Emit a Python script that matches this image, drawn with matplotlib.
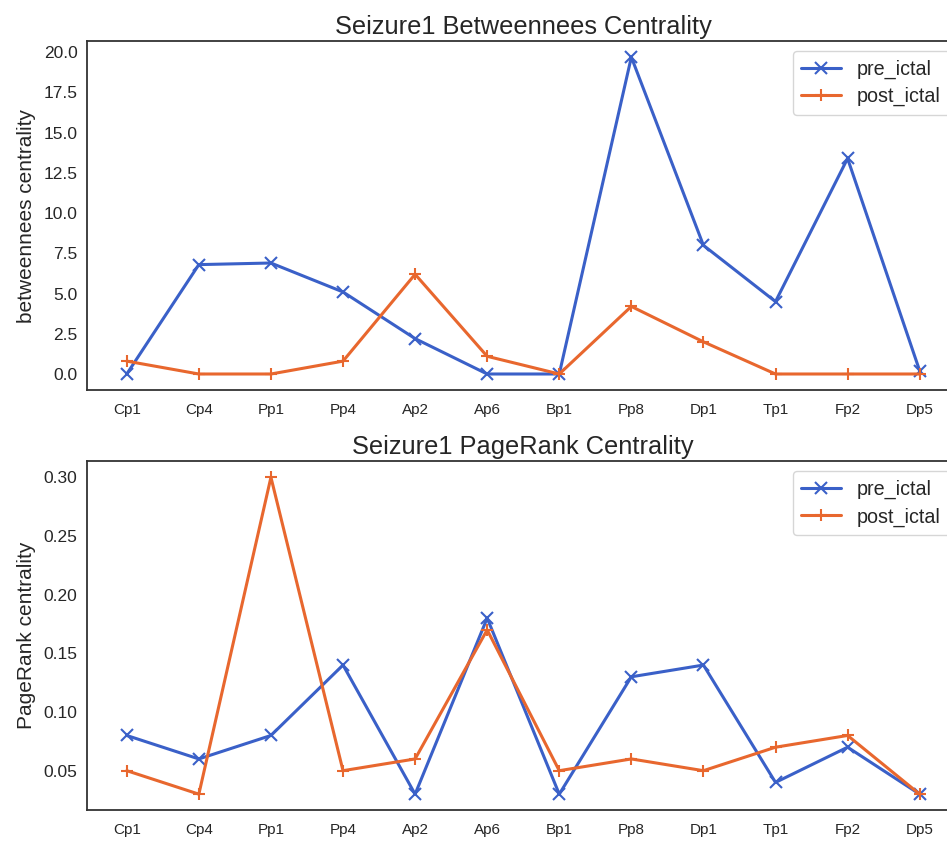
import matplotlib.pyplot as plt
import seaborn as sns

sns.set_style('white')
plt.rcParams['font.family'] = ['Liberation Sans', 'DejaVu Sans']

# Electrodes on the x axis
electrodes = ['Cp1', 'Cp4', 'Pp1', 'Pp4', 'Ap2', 'Ap6', 'Bp1', 'Pp8', 'Dp1', 'Tp1', 'Fp2', 'Dp5']

# Betweenness centrality
btw_pre = [0.0, 6.8, 6.9, 5.1, 2.2, 0.0, 0.0, 19.7, 8.0, 4.5, 13.4, 0.2]
btw_post = [0.8, 0.0, 0.0, 0.8, 6.2, 1.1, 0.0, 4.2, 2.0, 0.0, 0.0, 0.0]

# PageRank centrality
pr_pre = [0.08, 0.06, 0.08, 0.14, 0.03, 0.18, 0.03, 0.13, 0.14, 0.04, 0.07, 0.03]
pr_post = [0.05, 0.03, 0.30, 0.05, 0.06, 0.17, 0.05, 0.06, 0.05, 0.07, 0.08, 0.03]

blue = '#3a60c8'
orange = '#e8672e'

fig = plt.figure(figsize=(9.47, 8.42), dpi=100)
ax1 = fig.add_axes([0.092, 0.537, 0.921, 0.414])
ax2 = fig.add_axes([0.092, 0.038, 0.921, 0.414])

panels = [
    (ax1, btw_pre, btw_post, 'Seizure1 Betweennees Centrality', 'betweennees centrality'),
    (ax2, pr_pre, pr_post, 'Seizure1 PageRank Centrality', 'PageRank centrality'),
]

for ax, pre, post, title, ylabel in panels:
    ax.plot(electrodes, pre, marker='x', color=blue, lw=2.2, ms=9, mew=1.5, label='pre_ictal')
    ax.plot(electrodes, post, marker='+', color=orange, lw=2.2, ms=9, mew=1.5, label='post_ictal')
    ax.set_title(title, fontsize=18.3, pad=5)
    ax.set_ylabel(ylabel, fontsize=15, labelpad=5)
    ax.tick_params(axis='x', labelsize=11, pad=6)
    ax.tick_params(axis='y', labelsize=12.5)
    for s in ax.spines.values():
        s.set_color('#333333')
        s.set_linewidth(1.3)
    ax.legend(loc='upper right', fontsize=14.2, handlelength=2.0, borderpad=0.45,
              labelspacing=0.4)

fig.savefig('out.png', dpi=100)
